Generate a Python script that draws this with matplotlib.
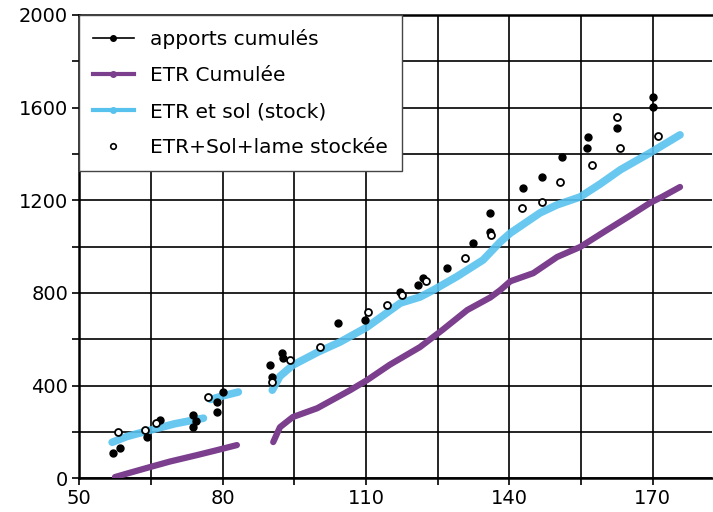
import matplotlib.pyplot as plt
from matplotlib.lines import Line2D
from matplotlib.ticker import FixedLocator, MultipleLocator

# ETR cumulée (two periods)
etr_x1 = [57.5, 60, 64.8, 69, 74.7, 79, 83]
etr_y1 = [5, 20, 48, 72, 100, 122, 143]
etr_x2 = [90.6, 92, 94.7, 99.8, 106.7, 110.2, 115, 121.3, 126, 131.2, 136, 138.1, 140.2,
          145, 150, 154.8, 160.4, 165, 169.4, 172, 175.7]
etr_y2 = [156, 220, 264, 302, 380, 423, 490, 566, 640, 726, 780, 812, 850,
          885, 955, 998, 1071, 1130, 1188, 1215, 1257]

# ETR et sol (stock)
stock_x1 = [56.9, 60, 64.8, 70, 76]
stock_y1 = [155, 180, 207, 235, 259]
stock_x1b = [77.5, 80, 83.3]
stock_y1b = [340, 355, 372]
stock_x2 = [90.4, 92, 94.7, 100, 104.6, 110.2, 117.2, 121.3, 124.1, 129, 134.5, 138.1,
            140.2, 146.4, 150, 154.8, 159, 163.2, 169.4, 175.7]
stock_y2 = [380, 440, 488, 545, 588, 652, 756, 782, 812, 870, 942, 1020,
            1058, 1145, 1180, 1214, 1270, 1331, 1404, 1482]

# apports cumulés
app_x = [57.1, 58.6, 64.2, 66.9, 73.8, 73.8, 74.5, 78.9, 78.9, 80,
         90, 90.4, 92.5, 92.7, 104.2, 109.8, 117.2, 120.9, 122, 127, 132.4, 136,
         136, 142.9, 146.8, 151, 156.3, 156.5, 162.5, 170, 170]
app_y = [108, 130, 177, 250, 272, 220, 245, 328, 285, 372,
         488, 436, 540, 518, 670, 683, 804, 834, 864, 907, 1015, 1063,
         1145, 1253, 1300, 1387, 1426, 1473, 1512, 1646, 1603]

# ETR+Sol+lame stockée
lame_x = [58.2, 63.8, 66, 77, 90.4, 94.1, 100.4, 110.4, 114.4, 117.5, 122.5, 130.7,
          136.2, 142.6, 146.8, 150.6, 157.3, 162.5, 163.2, 171]
lame_y = [199, 207, 240, 350, 415, 510, 566, 717, 747, 790, 850, 950,
          1050, 1166, 1192, 1279, 1352, 1560, 1426, 1477]

x_ticks = [50, 80, 110, 140, 170]
x_minor = [65, 95, 125, 155]

purple = '#7b3f8e'
cyan = '#58c2ef'

fig = plt.figure(figsize=(7.13, 5.12), dpi=100)
ax = fig.add_axes([0.111, 0.066, 0.887, 0.905])

for xs, ys in [(etr_x1, etr_y1), (etr_x2, etr_y2)]:
    ax.plot(xs, ys, color=purple, lw=4.5, solid_capstyle='round', zorder=3)
for xs, ys in [(stock_x1, stock_y1), (stock_x1b, stock_y1b), (stock_x2, stock_y2)]:
    ax.plot(xs, ys, color=cyan, lw=5.5, solid_capstyle='round', alpha=0.9, zorder=3)

ax.plot(app_x, app_y, 'o', color='black', ms=5, ls='none', zorder=4)
ax.plot(lame_x, lame_y, 'o', mfc='white', mec='black', mew=1.3, ms=5, ls='none', zorder=4)

ax.set_xlim(50, 182.3)
ax.set_ylim(0, 2000)
ax.xaxis.set_major_locator(FixedLocator(x_ticks))
ax.xaxis.set_minor_locator(FixedLocator(x_minor))
ax.yaxis.set_major_locator(MultipleLocator(400))
ax.yaxis.set_minor_locator(MultipleLocator(200))
ax.grid(which='both', color='black', lw=1.2)
ax.tick_params(which='both', direction='out', length=5, width=1.2, labelsize=14,
               colors='black', pad=3)
ax.spines['right'].set_visible(False)
for side in ['left', 'bottom', 'top']:
    ax.spines[side].set_linewidth(1.8)

handles = [
    Line2D([], [], color='black', lw=1.2, marker='o', ms=4),
    Line2D([], [], color=purple, lw=3, marker='o', ms=4),
    Line2D([], [], color=cyan, lw=3, marker='o', ms=4),
    Line2D([], [], color='black', ls='none', marker='o', mfc='white', mew=1.2, ms=4),
]
labels = ['apports cumulés', 'ETR Cumulée', 'ETR et sol (stock)', 'ETR+Sol+lame stockée']
leg = ax.legend(handles, labels, loc='upper left', fontsize=14.5, frameon=True,
                fancybox=False, edgecolor='#444444', framealpha=1, borderaxespad=0.0,
                handlelength=2.0, labelspacing=0.85, borderpad=0.7)
leg.get_frame().set_linewidth(1.0)

fig.savefig('out.png', dpi=100)
